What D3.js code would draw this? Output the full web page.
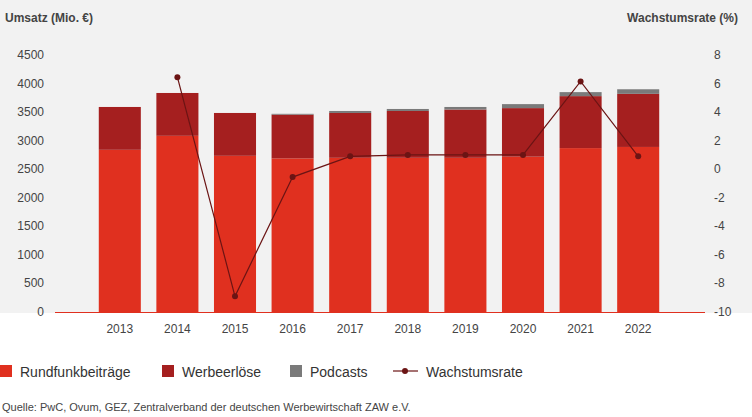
<!DOCTYPE html><html><head><meta charset="utf-8">
<script src="https://cdn.jsdelivr.net/npm/d3@7"></script>
<style>body{margin:0;background:#fff;font-family:Arial,"Liberation Sans",sans-serif}</style></head>
<body><svg id="c" width="752" height="417"></svg>
<script>
const years=["2013","2014","2015","2016","2017","2018","2019","2020","2021","2022"];
const rundfunk=[2840,3085,2735,2690,2700,2700,2700,2720,2870,2890];
const werbe=[750,750,750,765,785,820,845,850,910,930];
const podcasts=[0,0,0,15,35,35,45,70,70,80];
const growth=[null,6.45,-8.9,-0.55,0.9,1.0,1.0,1.0,6.15,0.9];
const leftTicks=[0,500,1000,1500,2000,2500,3000,3500,4000,4500];
const rightTicks=[-10,-8,-6,-4,-2,0,2,4,6,8];
const svg=d3.select("#c");
svg.append("rect").attr("width",752).attr("height",313).attr("fill","#f2f2f2");
const x=d3.scaleBand().domain(years).range([91,667]).paddingInner(0.27).paddingOuter(0.135);
const y=d3.scaleLinear().domain([0,4500]).range([312,55]);
const y2=d3.scaleLinear().domain([-10,8]).range([312,55]);
const colors=["#e0301f","#a51f1f","#7a7a7a"];
const series=[rundfunk,werbe,podcasts];
years.forEach((yr,i)=>{let base=0;series.forEach((s,k)=>{const v=s[i];if(v>0){svg.append("rect").attr("x",x(yr)).attr("width",x.bandwidth()).attr("y",y(base+v)).attr("height",y(base)-y(base+v)).attr("fill",colors[k]);}base+=v;});});
svg.append("line").attr("x1",55).attr("x2",705).attr("y1",312.5).attr("y2",312.5).attr("stroke","#e0301f").attr("stroke-width",1);
const t=svg.append("g").attr("font-size",12).attr("fill","#444");
leftTicks.forEach(v=>t.append("text").attr("x",44).attr("y",y(v)+4).attr("text-anchor","end").text(v));
rightTicks.forEach(v=>t.append("text").attr("x",714).attr("y",y2(v)+4).attr("text-anchor","start").text(v));
years.forEach(yr=>t.append("text").attr("x",x(yr)+x.bandwidth()/2).attr("y",333).attr("text-anchor","middle").text(yr));
svg.append("text").attr("x",5).attr("y",22).attr("font-size",12).attr("font-weight","bold").attr("fill","#444").text("Umsatz (Mio. €)");
svg.append("text").attr("x",738).attr("y",22).attr("font-size",12).attr("font-weight","bold").attr("fill","#444").attr("text-anchor","end").text("Wachstumsrate (%)");
const pts=years.map((yr,i)=>({x:x(yr)+x.bandwidth()/2,v:growth[i]})).filter(d=>d.v!==null);
svg.append("path").attr("d",d3.line().x(d=>d.x).y(d=>y2(d.v))(pts)).attr("fill","none").attr("stroke","#6b1414").attr("stroke-width",1.2);
pts.forEach(d=>svg.append("circle").attr("cx",d.x).attr("cy",y2(d.v)).attr("r",3).attr("fill","#6b1414"));
const lg=svg.append("g").attr("font-size",14).attr("fill","#333");
const items=[["Rundfunkbeiträge",0,"#e0301f"],["Werbeerlöse",162,"#a51f1f"],["Podcasts",290,"#7a7a7a"]];
items.forEach(([n,xx,c])=>{lg.append("rect").attr("x",xx).attr("y",365).attr("width",12).attr("height",12).attr("fill",c);lg.append("text").attr("x",xx+20).attr("y",377).text(n);});
lg.append("line").attr("x1",393).attr("x2",418).attr("y1",371).attr("y2",371).attr("stroke","#6b1414").attr("stroke-width",1.2);
lg.append("circle").attr("cx",405).attr("cy",371).attr("r",3).attr("fill","#6b1414");
lg.append("text").attr("x",426).attr("y",377).text("Wachstumsrate");
svg.append("text").attr("x",2).attr("y",411).attr("font-size",11).attr("fill","#444").text("Quelle: PwC, Ovum, GEZ, Zentralverband der deutschen Werbewirtschaft ZAW e.V.");
</script></body></html>
